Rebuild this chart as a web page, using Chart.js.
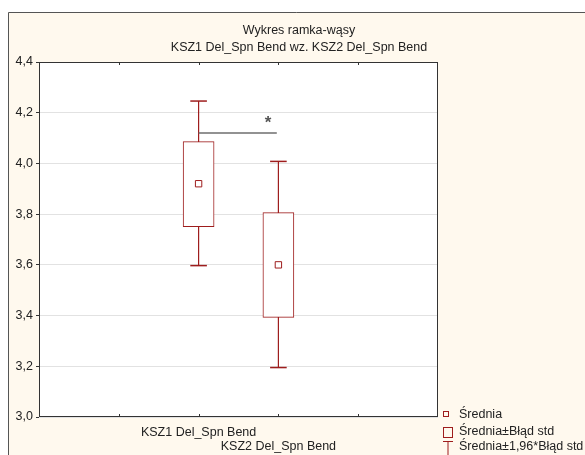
<!DOCTYPE html>
<html>
<head>
<meta charset="utf-8">
<script src="https://cdn.jsdelivr.net/npm/chart.js@4/dist/chart.umd.min.js"></script>
<style>
  html, body { margin: 0; padding: 0; background: #ffffff; overflow: hidden; }
  #wrap { position: absolute; left: 0; top: 0; width: 585px; height: 455px; }
</style>
</head>
<body>
<div id="wrap"><canvas id="c" width="585" height="455"></canvas></div>
<script>
// ---- data ----
const titleLines = ['Wykres ramka-wąsy', 'KSZ1 Del_Spn Bend wz. KSZ2 Del_Spn Bend'];
const categories = ['KSZ1 Del_Spn Bend', 'KSZ2 Del_Spn Bend'];
const categoryPositions = [2, 3];
const means = [3.92, 3.60];
const seLow = [3.751, 3.393];
const seHigh = [4.086, 3.806];
const ciLow = [3.597, 3.195];
const ciHigh = [4.246, 4.008];
const yTicks = [3.0, 3.2, 3.4, 3.6, 3.8, 4.0, 4.2, 4.4];
const legendLabels = ['Średnia', 'Średnia±Błąd std', 'Średnia±1,96*Błąd std'];
const sigFrom = 2, sigTo = 2.98, sigY = 4.12;
const sigMarkX = 2.87, sigMarkY = 4.17, sigMark = '*';

const RED = '#9e1d1d';
const TXT = '#222222';
const FF = '"Liberation Sans", Arial, sans-serif';
const FONT = '12.5px ' + FF;

const whiskerSets = categoryPositions.map((x, i) => ({
  type: 'line',
  data: [{x: x, y: ciLow[i]}, {x: x, y: ciHigh[i]}],
  borderColor: RED, borderWidth: 1.2, pointRadius: 0, order: 5
}));
const capSet = {
  type: 'line', showLine: false,
  data: categoryPositions.flatMap((x, i) => [{x: x, y: ciLow[i]}, {x: x, y: ciHigh[i]}]),
  pointStyle: 'line', pointRadius: 8.3, pointBorderColor: RED, pointBorderWidth: 1.5,
  order: 4
};
const boxSet = {
  type: 'bar',
  data: categoryPositions.map((x, i) => ({x: x, y: [seLow[i], seHigh[i]]})),
  backgroundColor: '#ffffff', borderColor: RED, borderWidth: 1, borderSkipped: false,
  barThickness: 31, order: 3
};
const meanSet = {
  type: 'line', showLine: false,
  data: categoryPositions.map((x, i) => ({x: x, y: means[i]})),
  pointStyle: 'rect', pointRadius: 4.5, pointBackgroundColor: '#ffffff',
  pointBorderColor: RED, pointBorderWidth: 1, order: 1
};
const sigSet = {
  type: 'line',
  data: [{x: sigFrom, y: sigY}, {x: sigTo, y: sigY}],
  borderColor: '#6e6e6e', borderWidth: 1.5, pointRadius: 0, order: 0
};

const decor = {
  id: 'decor',
  beforeDraw(chart) {
    const ctx = chart.ctx, a = chart.chartArea;
    ctx.save();
    ctx.fillStyle = '#ffffff';
    ctx.fillRect(0, 0, chart.width, chart.height);
    ctx.fillStyle = '#fff9ee';
    ctx.fillRect(8, 12, chart.width - 8, chart.height - 12);
    ctx.strokeStyle = '#555555'; ctx.lineWidth = 1;
    ctx.beginPath();
    ctx.moveTo(8.5, chart.height); ctx.lineTo(8.5, 12.5); ctx.lineTo(chart.width, 12.5);
    ctx.stroke();
    ctx.fillStyle = '#ffffff';
    ctx.fillRect(a.left, a.top, a.right - a.left, a.bottom - a.top);
    ctx.restore();
  },
  afterDraw(chart) {
    const ctx = chart.ctx, a = chart.chartArea;
    const xs = chart.scales.x, ys = chart.scales.y;
    ctx.save();
    // plot frame
    ctx.strokeStyle = '#333333'; ctx.lineWidth = 1;
    ctx.strokeRect(Math.round(a.left) + 0.5, Math.round(a.top) + 0.5,
      Math.round(a.right - a.left) - 1, Math.round(a.bottom - a.top) - 1);
    // inward ticks top and bottom
    ctx.beginPath();
    for (let v = 1; v <= 4; v++) {
      const px = Math.round(xs.getPixelForValue(v)) + 0.5;
      ctx.moveTo(px, a.top); ctx.lineTo(px, a.top + 3);
      ctx.moveTo(px, a.bottom); ctx.lineTo(px, a.bottom - 3);
    }
    ctx.stroke();
    // significance mark
    ctx.fillStyle = '#555555';
    ctx.font = 'bold 17px ' + FF;
    ctx.textAlign = 'center'; ctx.textBaseline = 'middle';
    ctx.fillText(sigMark, xs.getPixelForValue(sigMarkX), ys.getPixelForValue(sigMarkY) + 3);
    // titles
    ctx.fillStyle = TXT; ctx.font = FONT;
    ctx.fillText(titleLines[0], 299, 31);
    ctx.fillText(titleLines[1], 299, 48);
    // legend
    ctx.textAlign = 'left';
    const rows = [414.5, 432, 447];
    legendLabels.forEach((t, i) => ctx.fillText(t, 459, rows[i]));
    ctx.strokeStyle = RED; ctx.lineWidth = 1;
    ctx.strokeRect(443.5, 411.5, 5, 5);
    ctx.strokeRect(443.5, 427.5, 9, 10);
    ctx.beginPath();
    ctx.moveTo(443, 441.5); ctx.lineTo(453, 441.5);
    ctx.moveTo(448, 441.5); ctx.lineTo(448, 455);
    ctx.stroke();
    ctx.restore();
  }
};

new Chart(document.getElementById('c'), {
  type: 'bar',
  data: { datasets: [sigSet, meanSet, boxSet, capSet, ...whiskerSets] },
  options: {
    responsive: false, animation: false,
    layout: { padding: { top: 62, right: 147, left: 0, bottom: 0 } },
    plugins: { legend: { display: false }, tooltip: { enabled: false }, title: { display: false } },
    scales: {
      x: {
        type: 'linear', min: 0, max: 5, offset: false,
        afterFit(s) { s.height = 38; },
        afterBuildTicks(s) { s.ticks = [0, 1, 2, 3, 4, 5].map(v => ({value: v})); },
        grid: { display: false, drawTicks: false, offset: false },
        border: { display: false },
        ticks: {
          padding: 8, color: TXT, maxRotation: 0, autoSkip: false,
          font: { family: FF, size: 12.5, lineHeight: 1.17 },
          callback(v) {
            const i = categoryPositions.indexOf(v);
            if (i === 0) return [categories[0], ''];
            if (i === 1) return ['', categories[1]];
            return '';
          }
        }
      },
      y: {
        type: 'linear', min: 3.0, max: 4.4,
        afterFit(s) { s.width = 39; },
        afterBuildTicks(s) { s.ticks = yTicks.map(v => ({value: v})); },
        grid: { color: '#e2e2e2', tickColor: '#333333', tickLength: 3, lineWidth: 1 },
        border: { display: false },
        ticks: {
          padding: 3, color: TXT,
          font: { family: FF, size: 12.5 },
          callback(v) { return v.toFixed(1).replace('.', ','); }
        }
      }
    }
  },
  plugins: [decor]
});
</script>
</body>
</html>
